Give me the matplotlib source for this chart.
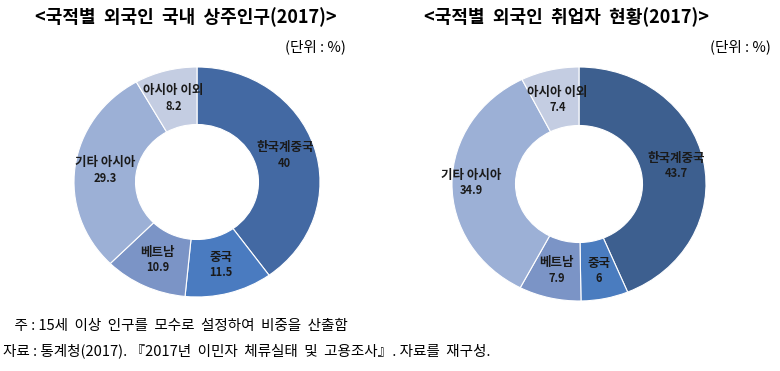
import numpy as np
import matplotlib
matplotlib.use("Agg")
import matplotlib.pyplot as plt

plt.rcParams["font.family"] = ["Noto Sans CJK KR", "DejaVu Sans"]

CATEGORIES = ["한국계중국", "중국", "베트남", "기타 아시아", "아시아 이외"]
RESIDENT = [40, 11.5, 10.9, 29.3, 8.2]
EMPLOYED = [43.7, 6, 7.9, 34.9, 7.4]
VALUE_LABELS_RES = ["40", "11.5", "10.9", "29.3", "8.2"]
VALUE_LABELS_EMP = ["43.7", "6", "7.9", "34.9", "7.4"]

TITLE_RES = "<국적별  외국인  국내  상주인구(2017)>"
TITLE_EMP = "<국적별  외국인  취업자  현황(2017)>"
UNIT = "(단위 : %)"
NOTE = "  주 : 15세  이상  인구를  모수로  설정하여  비중을  산출함"
SOURCE = "자료 : 통계청(2017). 『2017년  이민자  체류실태  및  고용조사』. 자료를  재구성."

COLORS_RES = ["#4369a3", "#4a7bc0", "#7b94c6", "#9cb0d6", "#c4cde2"]
COLORS_EMP = ["#3d5f8f", "#4a7cbf", "#7b94c6", "#9cb0d6", "#c4cde2"]

W, H = 780, 371


def px_axes(fig, cx, cy, rx, ry):
    return fig.add_axes([(cx - rx) / W, (H - cy - ry) / H, 2 * rx / W, 2 * ry / H])


def donut(ax, values, colors, value_labels, ldist):
    wedges, _ = ax.pie(values, colors=colors, startangle=90, counterclock=False,
                       radius=1.0, wedgeprops=dict(width=0.5, edgecolor="white", linewidth=0.8))
    ax.set_aspect("auto")
    ax.set_xlim(-1, 1)
    ax.set_ylim(-1, 1)
    ax.axis("off")
    for w, name, val, d in zip(wedges, CATEGORIES, value_labels, ldist):
        ang = np.deg2rad((w.theta1 + w.theta2) / 2)
        x, y = d * np.cos(ang), d * np.sin(ang)
        ax.annotate(name, (x, y), xytext=(0, 5.5), textcoords="offset points",
                    ha="center", va="center", fontsize=9, fontweight="bold", color="#1a1a1a")
        ax.annotate(val, (x, y), xytext=(0, -5.5), textcoords="offset points",
                    ha="center", va="center", fontsize=8, fontweight="bold", color="#1a1a1a")


fig = plt.figure(figsize=(7.8, 3.71), dpi=100)

ax1 = px_axes(fig, 197, 182, 123, 115)
donut(ax1, RESIDENT, COLORS_RES, VALUE_LABELS_RES, [0.75, 0.75, 0.75, 0.75, 0.75])
ax2 = px_axes(fig, 579, 184, 127, 117)
donut(ax2, EMPLOYED, COLORS_EMP, VALUE_LABELS_EMP, [0.78, 0.76, 0.76, 0.85, 0.74])

fig.text(186 / W, 1 - 17 / H, TITLE_RES, ha="center", va="center", fontsize=13, fontweight="bold")
fig.text(567 / W, 1 - 17 / H, TITLE_EMP, ha="center", va="center", fontsize=13, fontweight="bold")
fig.text(346 / W, 1 - 47 / H, UNIT, ha="right", va="center", fontsize=10.5)
fig.text(771 / W, 1 - 47 / H, UNIT, ha="right", va="center", fontsize=10.5)

fig.text(8 / W, 1 - 326 / H, NOTE, ha="left", va="center", fontsize=10.5)
fig.text(3 / W, 1 - 351 / H, SOURCE, ha="left", va="center", fontsize=10.5)

fig.savefig("out.png", dpi=100, facecolor="white")
